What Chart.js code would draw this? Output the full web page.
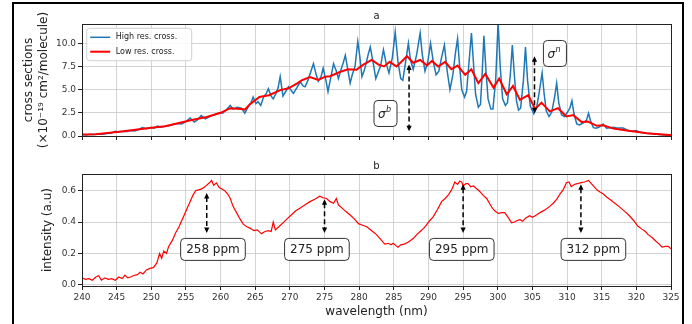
<!DOCTYPE html>
<html><head><meta charset="utf-8">
<script src="https://cdn.jsdelivr.net/npm/chart.js@4.4.1/dist/chart.umd.min.js"></script>
<style>
html,body{margin:0;padding:0;background:#fff;}
#wrap{position:relative;width:692px;height:324px;overflow:hidden;background:#fff;}
#frame{position:absolute;left:12px;top:2px;width:668px;height:340px;border:2px solid #000;}
canvas{position:absolute;left:0;}
#c1{top:0;} #c2{top:150px;}
</style></head><body>
<div id="wrap"><div id="frame"></div>
<canvas id="c1" width="692" height="150"></canvas>
<canvas id="c2" width="692" height="174"></canvas></div>
<script>
// ---- data ----
const xTicks = [240,245,250,255,260,265,270,275,280,285,290,295,300,305,310,315,320,325];
const topYTicks = [0, 2.5, 5, 7.5, 10];
const botYTicks = [0, 0.2, 0.4, 0.6];

const hiWl = [240.0,240.6,241.2,241.8,242.4,243.0,243.6,244.2,244.8,245.3,245.9,246.5,247.0,247.6,248.2,248.7,249.3,249.9,250.4,250.9,251.4,252.0,252.6,253.2,253.8,254.4,255.0,255.6,256.2,256.6,257.2,257.8,258.3,258.8,259.3,259.8,260.3,260.8,261.4,261.8,262.4,263.0,263.5,264.0,264.4,264.7,265.1,265.4,265.8,266.2,266.6,266.9,267.3,267.6,268.0,268.3,268.6,269.0,269.4,269.8,270.2,270.5,271.0,271.5,271.9,272.2,272.6,273.0,273.4,273.8,274.1,274.5,274.8,275.2,275.5,275.9,276.3,276.7,277.0,277.4,277.7,278.0,278.4,278.7,279.0,279.4,279.8,280.1,280.4,280.7,281.0,281.3,281.6,282.0,282.4,282.7,283.1,283.5,283.9,284.3,284.8,285.2,285.6,286.0,286.3,286.7,287.1,287.4,287.8,288.3,288.8,289.1,289.5,289.9,290.3,290.7,291.1,291.5,291.9,292.3,292.7,293.1,293.5,293.9,294.2,294.5,294.8,295.2,295.5,295.8,296.2,296.5,296.8,297.2,297.5,297.7,298.0,298.3,298.6,299.0,299.3,299.7,300.05,300.35,300.7,301.1,301.4,301.8,302.1,302.4,302.7,303.0,303.3,303.7,304.0,304.3,304.7,305.2,305.6,306.0,306.4,306.7,307.0,307.4,307.8,308.2,308.5,308.8,309.2,309.6,310.0,310.4,310.7,311.0,311.4,311.8,312.3,312.8,313.1,313.4,313.8,314.2,314.7,315.2,315.7,316.2,316.7,317.4,318.1,318.8,319.4,319.9,320.6,321.5,322.3,323.0,324.0,325.0];
const hiVal = [0.15,0.12,0.18,0.15,0.22,0.2,0.28,0.3,0.52,0.42,0.5,0.48,0.58,0.55,0.7,0.9,0.78,0.92,0.85,1.08,0.95,1.05,1.1,1.25,1.35,1.3,1.55,1.95,1.5,1.7,2.2,1.85,2.05,2.2,2.35,2.5,2.45,2.8,3.3,2.9,3.1,3.0,2.45,3.2,3.6,4.2,3.5,3.7,3.3,4.2,4.6,5.1,4.3,4.0,4.6,5.2,6.4,4.3,4.8,5.3,4.9,4.6,5.2,5.85,5.4,5.3,6.0,6.9,7.8,6.6,5.9,6.4,7.3,6.0,4.8,6.3,7.8,7.0,6.2,7.2,7.9,8.7,7.0,5.7,6.6,7.5,10.2,8.5,6.4,7.0,7.8,8.8,9.6,8.0,6.2,6.8,7.6,9.3,7.8,6.8,8.5,11.2,8.0,6.2,6.0,8.0,10.0,8.2,7.2,8.8,11.1,8.8,7.0,8.0,10.0,8.0,6.6,7.0,8.5,9.8,7.0,5.0,6.5,9.0,10.5,7.5,5.0,4.2,4.8,7.5,11.1,7.8,4.5,3.1,3.4,6.0,10.8,7.0,4.0,2.9,2.9,6.0,12.3,7.5,4.0,3.3,3.6,6.5,9.8,6.5,3.8,2.8,3.0,6.0,9.6,6.0,3.2,2.4,3.0,4.8,6.8,4.5,2.7,2.1,2.6,4.2,5.7,3.6,2.3,2.1,2.5,3.0,3.8,2.4,1.3,1.2,1.4,1.7,2.45,1.6,0.9,0.85,1.0,1.3,0.85,0.9,0.95,0.85,0.85,0.6,0.5,0.6,0.4,0.3,0.25,0.18,0.12,0.1];

const loWl = [240,242,244,246,248,250,252,254,256,258,260,261.4,263.0,263.5,264.2,265.6,267.0,268.6,269.8,271.0,271.7,272.9,274.1,275.1,275.8,277.2,278.4,279.6,280.6,281.8,282.8,283.6,284.4,285.4,286.9,287.8,288.8,289.8,290.5,291.4,292.4,293.3,294.2,295.3,296.2,297.2,298.2,299.4,300.2,301.3,302.2,303.2,304.4,305.4,306.3,307.5,308.7,309.9,310.9,312.1,313.0,314.3,315.2,316.7,318.6,320.0,321.5,322.4,324.8,325];
const loVal = [0.15,0.2,0.35,0.5,0.7,0.9,1.05,1.4,1.75,2.05,2.5,3.0,2.9,2.85,3.4,4.2,4.4,4.95,5.15,5.65,6.0,6.35,6.05,6.4,6.45,6.9,7.2,7.15,7.7,8.2,7.7,7.5,8.0,7.5,8.6,7.9,8.2,7.6,8.1,7.5,8.0,7.2,7.6,6.6,7.2,5.7,6.7,5.2,6.2,4.5,5.4,3.9,4.4,2.9,3.6,2.65,3.0,2.1,2.25,1.5,1.55,1.1,1.15,0.8,0.6,0.45,0.3,0.25,0.1,0.1];

const intWl = [240.0,240.5,241.0,241.5,242.0,242.4,242.8,243.3,243.8,244.3,244.8,245.3,245.8,246.2,246.6,247.0,247.5,248.0,248.4,248.8,249.3,249.8,250.3,250.8,251.2,251.5,251.8,252.2,252.5,253.0,253.5,254.0,254.5,254.9,255.3,255.6,256.0,256.4,256.8,257.2,257.6,258.0,258.4,258.7,259.0,259.4,259.8,260.2,260.6,261.0,261.4,261.8,262.3,262.8,263.3,263.8,264.3,264.8,265.3,265.9,266.4,266.9,267.3,267.6,267.9,268.4,269.0,269.6,270.2,270.8,271.5,272.2,272.9,273.6,274.3,274.8,275.3,275.8,276.3,276.7,277.0,277.5,278.0,278.7,279.3,279.9,280.5,281.1,281.8,282.5,283.1,283.7,284.2,284.6,284.9,285.3,285.6,286.0,286.5,287.0,287.3,287.8,288.3,288.8,289.3,289.7,290.2,290.7,291.3,291.9,292.4,292.9,293.4,293.8,294.2,294.5,294.8,295.0,295.4,295.7,296.1,296.5,297.0,297.4,297.9,298.4,298.8,299.2,299.6,300.1,300.6,301.0,301.5,302.0,302.4,302.8,303.2,303.6,304.0,304.6,305.0,305.4,305.9,306.3,306.9,307.5,308.0,308.5,309.0,309.5,309.9,310.3,310.6,311.1,311.5,311.9,312.5,313.1,313.5,313.8,314.3,314.8,315.2,315.7,316.3,316.9,317.6,318.4,319.0,319.6,320.2,320.8,321.3,321.7,322.3,322.9,323.3,323.7,324.2,324.6,325.0];
const intVal = [0.045,0.035,0.04,0.03,0.05,0.058,0.03,0.045,0.035,0.04,0.03,0.05,0.04,0.062,0.045,0.05,0.06,0.065,0.08,0.07,0.095,0.105,0.11,0.14,0.2,0.17,0.215,0.2,0.245,0.28,0.33,0.37,0.42,0.46,0.5,0.53,0.57,0.6,0.605,0.61,0.62,0.635,0.65,0.665,0.635,0.65,0.62,0.61,0.6,0.58,0.55,0.5,0.46,0.42,0.385,0.37,0.36,0.345,0.35,0.325,0.34,0.345,0.34,0.4,0.35,0.37,0.395,0.42,0.445,0.47,0.49,0.51,0.53,0.545,0.565,0.555,0.55,0.53,0.52,0.55,0.51,0.49,0.47,0.445,0.42,0.39,0.38,0.37,0.345,0.32,0.29,0.26,0.265,0.255,0.265,0.25,0.24,0.255,0.26,0.27,0.28,0.295,0.32,0.34,0.36,0.38,0.41,0.435,0.48,0.53,0.55,0.575,0.61,0.655,0.64,0.66,0.655,0.63,0.645,0.645,0.625,0.63,0.61,0.595,0.57,0.55,0.52,0.49,0.47,0.455,0.46,0.46,0.43,0.395,0.4,0.41,0.415,0.405,0.425,0.44,0.43,0.44,0.455,0.465,0.48,0.5,0.52,0.545,0.58,0.61,0.65,0.655,0.625,0.64,0.645,0.65,0.655,0.665,0.645,0.63,0.605,0.59,0.58,0.56,0.54,0.52,0.495,0.465,0.44,0.41,0.375,0.355,0.34,0.32,0.3,0.275,0.26,0.24,0.245,0.245,0.23];

// annotations (data coordinates)
const topArrows = [{x:287.2, yTop:7.7, yBot:0.5}, {x:305.3, yTop:8.6, yBot:2.45}];
const topLabels = [{x:283.8, y:2.43, base:'σ', sup:'b'}, {x:308.25, y:8.9, base:'σ', sup:'n'}];
const botArrows = [{x:258, yTop:0.585, yBot:0.33}, {x:275, yTop:0.545, yBot:0.33}, {x:295, yTop:0.64, yBot:0.33}, {x:312, yTop:0.64, yBot:0.33}];
const botLabels = [{x:258.9, y:0.226, text:'258 ppm'}, {x:273.9, y:0.226, text:'275 ppm'}, {x:294.8, y:0.226, text:'295 ppm'}, {x:313.8, y:0.226, text:'312 ppm'}];

const FAM = "'DejaVu Sans', sans-serif";
const pts = (xs, ys) => xs.map((x,i)=>({x, y: ys[i]}));

function roundRect(ctx, x, y, w, h, r){
  ctx.beginPath();
  ctx.moveTo(x+r,y); ctx.lineTo(x+w-r,y); ctx.quadraticCurveTo(x+w,y,x+w,y+r);
  ctx.lineTo(x+w,y+h-r); ctx.quadraticCurveTo(x+w,y+h,x+w-r,y+h);
  ctx.lineTo(x+r,y+h); ctx.quadraticCurveTo(x,y+h,x,y+h-r);
  ctx.lineTo(x,y+r); ctx.quadraticCurveTo(x,y,x+r,y); ctx.closePath();
}
function drawArrow(ctx, x, ya, yb){
  ctx.save();
  ctx.strokeStyle='#000'; ctx.fillStyle='#000'; ctx.lineWidth=1.5;
  ctx.setLineDash([5,3]);
  ctx.beginPath(); ctx.moveTo(x, ya+4); ctx.lineTo(x, yb-4); ctx.stroke();
  ctx.setLineDash([]);
  ctx.beginPath(); ctx.moveTo(x, ya); ctx.lineTo(x-2.6, ya+5.5); ctx.lineTo(x+2.6, ya+5.5); ctx.closePath(); ctx.fill();
  ctx.beginPath(); ctx.moveTo(x, yb); ctx.lineTo(x-2.6, yb-5.5); ctx.lineTo(x+2.6, yb-5.5); ctx.closePath(); ctx.fill();
  ctx.restore();
}
function frameAndTitle(title){
  return {
    id:'frameTitle',
    afterDraw(chart){
      const {ctx, chartArea:a} = chart;
      ctx.save();
      ctx.strokeStyle='#222'; ctx.lineWidth=1;
      ctx.strokeRect(Math.round(a.left)+0.5, Math.round(a.top)+0.5, Math.round(a.right-a.left), Math.round(a.bottom-a.top));
      ctx.fillStyle='#222'; ctx.font='10px '+FAM; ctx.textAlign='center'; ctx.textBaseline='middle';
      ctx.fillText(title, (a.left+a.right)/2, a.top-8);
      ctx.restore();
    }
  };
}
function scalesCfg(opts){
  return {
    x:{type:'linear', min:240, max:325,
      afterBuildTicks:s=>{s.ticks = xTicks.map(v=>({value:v}));},
      ticks:{display:opts.xLabels, font:{size:9, family:FAM}, color:'#333', padding:2, maxRotation:0, autoSkip:false, callback:v=>String(v)},
      grid:{color:'#c8c8c8', lineWidth:0.8, tickColor:'#222', tickLength:4, tickWidth:1},
      border:{display:false},
      title: opts.xTitle ? {display:true, text:opts.xTitle, font:{size:12, family:FAM, lineHeight:1.2}, color:'#222', padding:{top:0,bottom:4.8}} : {display:false},
      afterFit:s=>{s.height = opts.xH;}
    },
    y:{type:'linear', min:opts.yMin, max:opts.yMax,
      afterBuildTicks:s=>{s.ticks = opts.yTicks.map(v=>({value:v}));},
      ticks:{font:{size:9, family:FAM}, color:'#333', padding:2, callback:v=>v.toFixed(1)},
      grid:{color:'#c8c8c8', lineWidth:0.8, tickColor:'#222', tickLength:4, tickWidth:1},
      border:{display:false},
      title:{display:true, text:opts.yTitle, font:{size:12, family:FAM, lineHeight:1.25}, color:'#222', padding:{top:opts.yTitlePad, bottom:0}},
      afterFit:s=>{s.width = 82;}
    }
  };
}

const legendPlugin = {
  id:'innerLegend',
  afterDraw(chart){
    const {ctx, chartArea:a} = chart;
    const x0 = a.left+4.7, y0 = a.top+4.3;
    ctx.save();
    roundRect(ctx, x0, y0, 105, 32.4, 3);
    ctx.fillStyle='rgba(255,255,255,0.85)'; ctx.fill();
    ctx.strokeStyle='#d0d0d0'; ctx.lineWidth=1; ctx.stroke();
    const items = [chart.data.datasets[0], chart.data.datasets[1]];
    items.forEach((ds,i)=>{
      const yy = y0 + 9 + i*14.4;
      ctx.strokeStyle = ds.borderColor; ctx.lineWidth = ds.borderWidth;
      ctx.beginPath(); ctx.moveTo(x0+3.5, yy); ctx.lineTo(x0+23.5, yy); ctx.stroke();
      ctx.fillStyle='#222'; ctx.font='8px '+FAM; ctx.textAlign='left'; ctx.textBaseline='middle';
      ctx.fillText(ds.label, x0+29, yy);
    });
    ctx.restore();
  }
};
const topAnno = {
  id:'topAnno',
  afterDraw(chart){
    const {ctx, scales:{x,y}} = chart;
    topArrows.forEach(a=>drawArrow(ctx, x.getPixelForValue(a.x), y.getPixelForValue(a.yTop), y.getPixelForValue(a.yBot)));
    topLabels.forEach(l=>{
      const cx = x.getPixelForValue(l.x), cy = y.getPixelForValue(l.y);
      const w=23, h=26;
      ctx.save();
      roundRect(ctx, cx-w/2, cy-h/2, w, h, 4);
      ctx.fillStyle='#fff'; ctx.fill(); ctx.strokeStyle='#333'; ctx.lineWidth=1; ctx.stroke();
      ctx.fillStyle='#222'; ctx.textBaseline='alphabetic'; ctx.textAlign='left';
      ctx.font='italic 12px '+FAM;
      ctx.fillText(l.base, cx-7.5, cy+4.5);
      ctx.font='italic 8px '+FAM;
      ctx.fillText(l.sup, cx+0.5, cy-1.5);
      ctx.restore();
    });
  }
};
const botAnno = {
  id:'botAnno',
  afterDraw(chart){
    const {ctx, scales:{x,y}} = chart;
    botArrows.forEach(a=>drawArrow(ctx, x.getPixelForValue(a.x), y.getPixelForValue(a.yTop), y.getPixelForValue(a.yBot)));
    botLabels.forEach(l=>{
      const cx = x.getPixelForValue(l.x), cy = y.getPixelForValue(l.y);
      ctx.save();
      ctx.font='12px '+FAM;
      const tw = ctx.measureText(l.text).width;
      const w = tw+11, h=22;
      roundRect(ctx, cx-w/2, cy-h/2, w, h, 4);
      ctx.fillStyle='#fff'; ctx.fill(); ctx.strokeStyle='#333'; ctx.lineWidth=1; ctx.stroke();
      ctx.fillStyle='#222'; ctx.textAlign='center'; ctx.textBaseline='middle';
      ctx.fillText(l.text, cx, cy+0.5);
      ctx.restore();
    });
  }
};

Chart.defaults.font.family = FAM;

new Chart(document.getElementById('c1'), {
  type:'line',
  data:{datasets:[
    {label:'High res. cross.', data:pts(hiWl, hiVal), borderColor:'#1f77b4', borderWidth:1.5, pointRadius:0, tension:0, order:2},
    {label:'Low res. cross.', data:pts(loWl, loVal), borderColor:'#ff0000', borderWidth:2, pointRadius:0, tension:0, order:1}
  ]},
  options:{
    responsive:false, animation:false, devicePixelRatio:1,
    layout:{padding:{left:0, right:21, top:24, bottom:0}},
    plugins:{legend:{display:false}, title:{display:false}, tooltip:{enabled:false}},
    scales:scalesCfg({xLabels:false, xH:14, yMin:0, yMax:12.08, yTicks:topYTicks,
      yTitle:['cross sections','(×10⁻¹⁹ cm²/molecule)'], yTitlePad:21})
  },
  plugins:[frameAndTitle('a'), legendPlugin, topAnno]
});

new Chart(document.getElementById('c2'), {
  type:'line',
  data:{datasets:[
    {label:'intensity', data:pts(intWl, intVal), borderColor:'#ff0000', borderWidth:1.2, pointRadius:0, tension:0}
  ]},
  options:{
    responsive:false, animation:false, devicePixelRatio:1,
    layout:{padding:{left:0, right:21, top:24, bottom:0}},
    plugins:{legend:{display:false}, title:{display:false}, tooltip:{enabled:false}},
    scales:scalesCfg({xLabels:true, xH:38, xTitle:'wavelength (nm)', yMin:-0.007, yMax:0.706, yTicks:botYTicks,
      yTitle:'intensity (a.u)', yTitlePad:40.5})
  },
  plugins:[frameAndTitle('b'), botAnno]
});
</script>
</body></html>
